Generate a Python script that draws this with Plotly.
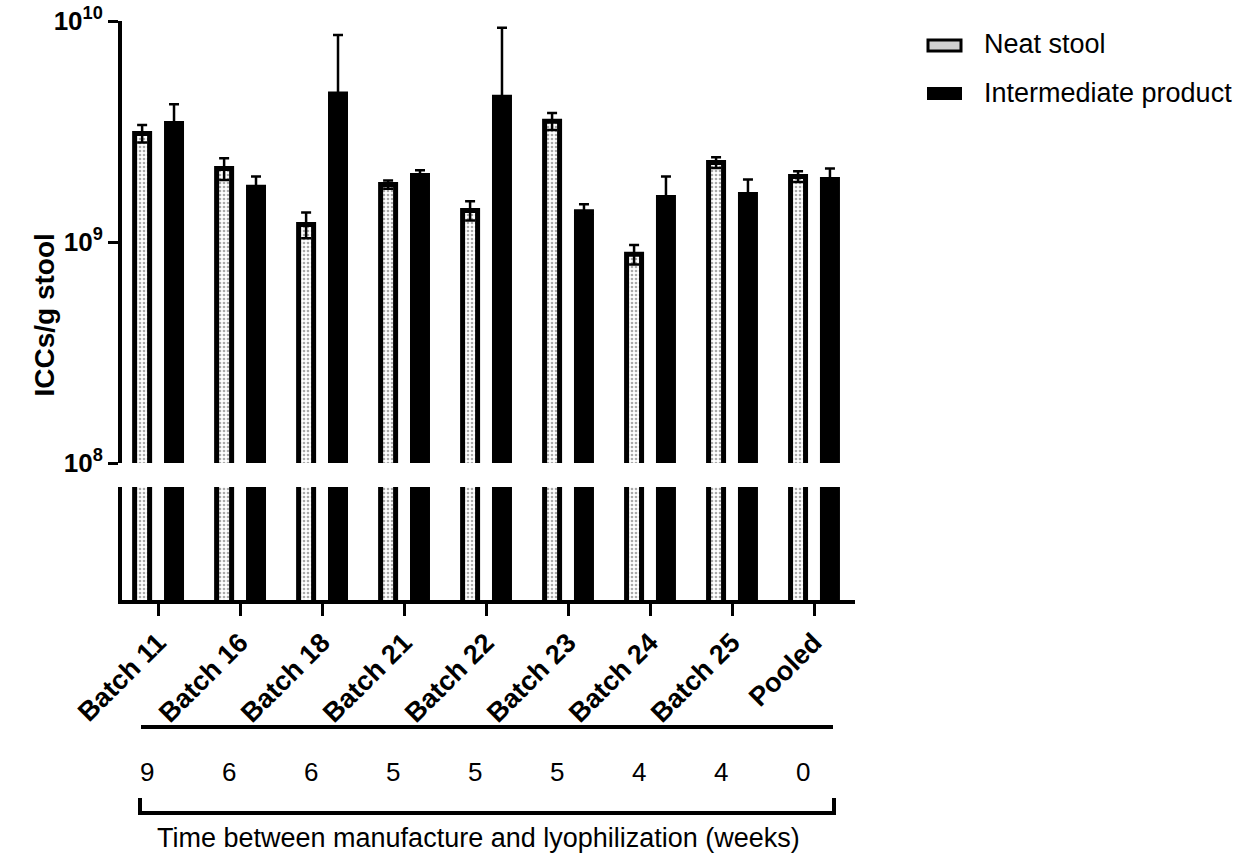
import plotly.graph_objects as go

categories = ["Batch 11", "Batch 16", "Batch 18", "Batch 21", "Batch 22",
              "Batch 23", "Batch 24", "Batch 25", "Pooled"]
weeks = [9, 6, 6, 5, 5, 5, 4, 4, 0]
neat = [3.1e9, 2.15e9, 1.2e9, 1.82e9, 1.39e9, 3.52e9, 8.8e8, 2.29e9, 1.98e9]
neat_err = [0.28e9, 0.24e9, 0.16e9, 0.08e9, 0.14e9, 0.31e9, 0.09e9, 0.13e9, 0.11e9]
inter = [3.44e9, 1.77e9, 4.67e9, 2.0e9, 4.52e9, 1.37e9, 1.59e9, 1.64e9, 1.92e9]
inter_err = [0.76e9, 0.21e9, 3.97e9, 0.11e9, 4.8e9, 0.11e9, 0.39e9, 0.28e9, 0.23e9]
ytick_vals = [1e8, 1e9, 1e10]
ytick_text = ["10<sup>8</sup>", "10<sup>9</sup>", "10<sup>10</sup>"]
series_names = ["Neat stool", "Intermediate product"]
y_title = "ICCs/g stool"
x_title = "Time between manufacture and lyophilization (weeks)"

FONT = "Liberation Sans, Arial, sans-serif"
W, H = 1258, 859
ML, MR, MT, MB = 122, 403, 21, 259
PW, PH = W - ML - MR, H - MT - MB


def px_x(p):
    return (p - ML) / PW


def px_y(p):
    return (H - MB - p) / PH


neat_marker = dict(color="white", line=dict(color="black", width=5),
                   pattern=dict(shape=".", fgcolor="#555", bgcolor="white",
                                size=4, solidity=0.35))
inter_marker = dict(color="black", line=dict(color="black", width=5))
err_style = dict(type="data", visible=True, color="black", thickness=2.5, width=5)

fig = go.Figure()
# upper (log) segment
fig.add_trace(go.Bar(x=categories, y=neat, name=series_names[0], marker=neat_marker,
                     error_y=dict(array=neat_err, **err_style),
                     xaxis="x2", yaxis="y2", showlegend=False))
fig.add_trace(go.Bar(x=categories, y=inter, name=series_names[1], marker=inter_marker,
                     error_y=dict(array=inter_err, **err_style),
                     xaxis="x2", yaxis="y2", showlegend=False))
# lower segment below the axis break
fig.add_trace(go.Bar(x=categories, y=neat, name=series_names[0], marker=neat_marker,
                     xaxis="x", yaxis="y", showlegend=False))
fig.add_trace(go.Bar(x=categories, y=inter, name=series_names[1], marker=inter_marker,
                     xaxis="x", yaxis="y", showlegend=False))

lower_top = px_y(487)
upper_bottom = px_y(463)

fig.update_layout(
    width=W, height=H,
    margin=dict(l=ML, r=MR, t=MT, b=MB, autoexpand=False),
    paper_bgcolor="white", plot_bgcolor="white",
    barmode="group", bargap=0.222, bargroupgap=0.53,
    font=dict(family=FONT, color="black"),
    xaxis=dict(domain=[0, 1], anchor="y", range=[-0.44, 8.5], automargin=False,
               showline=True, linecolor="black", linewidth=4,
               ticks="outside", ticklen=12, tickwidth=3, tickcolor="black",
               tickangle=-45, showgrid=False, zeroline=False,
               tickfont=dict(family=FONT, size=27, weight="bold", color="black")),
    yaxis=dict(domain=[0, lower_top], type="log", range=[7.5, 8.0], automargin=False,
               showline=True, linecolor="black", linewidth=4,
               showticklabels=False, ticks="", showgrid=False, zeroline=False),
    xaxis2=dict(domain=[0, 1], anchor="y2", matches="x", visible=False),
    yaxis2=dict(domain=[upper_bottom, 1], anchor="x2", type="log", range=[8, 10],
                automargin=False,
                showline=True, linecolor="black", linewidth=4,
                ticks="outside", ticklen=10, tickwidth=3, tickcolor="black",
                tickvals=ytick_vals, ticktext=ytick_text, showgrid=False,
                zeroline=False,
                tickfont=dict(family=FONT, size=26, weight="bold", color="black")),
)

# y title
fig.add_annotation(text=y_title, xref="paper", yref="paper", x=px_x(26), y=px_y(315),
                   textangle=-90, showarrow=False,
                   font=dict(family=FONT, size=28, weight="bold", color="black"))

# horizontal rule under tick labels
fig.add_shape(type="line", xref="paper", yref="paper",
              x0=px_x(141), x1=px_x(833), y0=px_y(727), y1=px_y(727),
              line=dict(color="black", width=4))

# weeks numbers
for i, w in enumerate(weeks):
    fig.add_annotation(text=str(w), xref="x", yref="paper", x=i, y=px_y(772),
                       xshift=-11, showarrow=False, yanchor="middle",
                       font=dict(family=FONT, size=26, color="black"))

# bracket
x0b, x1b = px_x(140), px_x(834)
yb, yt = px_y(813), px_y(798)
fig.add_shape(type="path", xref="paper", yref="paper",
              path=f"M {x0b},{yt} L {x0b},{yb} L {x1b},{yb} L {x1b},{yt}",
              line=dict(color="black", width=4))

fig.add_annotation(text=x_title, xref="paper", yref="paper", x=px_x(478), y=px_y(838),
                   showarrow=False, yanchor="middle",
                   font=dict(family=FONT, size=27, color="black"))

# legend (drawn manually)
fig.add_shape(type="rect", xref="paper", yref="paper",
              x0=px_x(928), x1=px_x(961), y0=px_y(40), y1=px_y(51),
              fillcolor="#cfcfcf", line=dict(color="black", width=3))
fig.add_shape(type="rect", xref="paper", yref="paper",
              x0=px_x(927), x1=px_x(962), y0=px_y(87), y1=px_y(100),
              fillcolor="black", line=dict(color="black", width=0))
fig.add_annotation(text=series_names[0], xref="paper", yref="paper",
                   x=px_x(982), y=px_y(44), xanchor="left", yanchor="middle",
                   showarrow=False, font=dict(family=FONT, size=27, color="black"))
fig.add_annotation(text=series_names[1], xref="paper", yref="paper",
                   x=px_x(982), y=px_y(93), xanchor="left", yanchor="middle",
                   showarrow=False, font=dict(family=FONT, size=27, color="black"))

fig.write_html("out.html")
